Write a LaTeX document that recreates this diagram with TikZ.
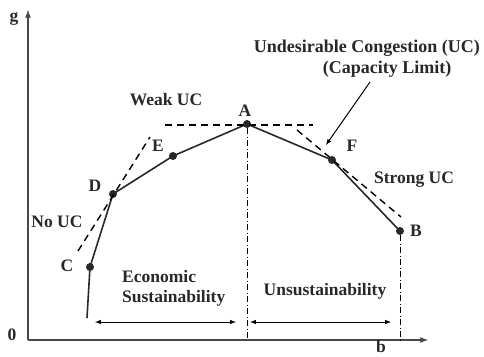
\documentclass[tikz,border=0pt]{standalone}
\usepackage{fontspec}
\setmainfont{Liberation Serif}
\usetikzlibrary{positioning,
        shapes,
        arrows.meta}
\usepackage{xcolor}
\definecolor{ink}{RGB}{40,40,40}

\begin{document}
\begin{tikzpicture}[x=1pt,y=-1pt,font=\fontsize{17.5}{20}\selectfont\bfseries,text=ink]
            \tikzset{pt/.style={circle,fill=ink,inner sep=0pt,minimum size=8pt},
                     lbl/.style={inner sep=1pt},
                     tang/.style={line width=1.4pt, dash pattern=on 7pt off 5pt},
                     drop/.style={line width=0.8pt, dash pattern=on 6pt off 2.5pt on 1pt off 2.5pt}}
            \useasboundingbox (0,0) rectangle (484,356);

            % axes
            \coordinate (o) at (28,340);
            \coordinate (ytop) at (28,10);
            \coordinate (xend) at (428,340);
            \draw [-latex, line width=1.6pt, ink!85] (o) -- (ytop);
            \draw [-latex, line width=1.6pt, ink!85] (o) -- (xend);
            \node [lbl] (g) at (14,19) {g};
            \node [lbl] (zero) at (12,335) {0};
            \node [lbl] (b) at (381,347) {b};

            % points
            \coordinate (start) at (87,318);
            \node [pt] (C) at (90,267) {};
            \node [pt] (D) at (113,194) {};
            \node [pt] (E) at (173,156) {};
            \node [pt] (A) at (247,124) {};
            \node [pt] (F) at (332,160) {};
            \node [pt] (B) at (400,231) {};

            \node [lbl] (Clbl) at (67,266) {C};
            \node [lbl] (Dlbl) at (95,186) {D};
            \node [lbl] (Elbl) at (158,146) {E};
            \node [lbl] (Albl) at (245,111) {A};
            \node [lbl] (Flbl) at (352,146) {F};
            \node [lbl] (Blbl) at (416,231) {B};

            % curve
            \draw [line width=1.6pt, ink] (start) -- (C.center) -- (D.center) -- (E.center) -- (A.center) -- (F.center) -- (B.center);

            % tangents
            \coordinate (nu1) at (78,251);
            \coordinate (nu2) at (150,137);
            \coordinate (h1) at (165,125);
            \coordinate (h2) at (313,125);
            \coordinate (s1) at (297,130);
            \coordinate (s2) at (401,217);
            \draw [tang] (nu1) -- (nu2);
            \draw [tang] (h1) -- (h2);
            \draw [tang] (s1) -- (s2);

            % vertical lines
            \coordinate (Abase) at (247,340);
            \coordinate (Bbase) at (400,340);
            \draw [drop] (A) -- (Abase);
            \draw [drop] (B) -- (Bbase);

            % region labels
            \node [lbl] (weak) at (166,100) {Weak UC};
            \node [lbl] (noUC) at (57,222) {No UC};
            \node [lbl] (strong) at (414,180) {Strong UC};
            \node [lbl, anchor=east, font=\fontsize{18}{20}\selectfont\bfseries] (uc1) at (481,48) {Undesirable Congestion (UC)};
            \node [lbl, font=\fontsize{18}{20}\selectfont\bfseries] (uc2) at (387,69) {(Capacity Limit)};
            \coordinate (ucstart) at (370,82);
            \coordinate (ucend) at (326,145);
            \draw [-latex, line width=1pt] (ucstart) -- (ucend);

            \node [lbl, align=left, anchor=west] (eco) at (121,288) {Economic\\Sustainability};
            \node [lbl] (unsus) at (325,291) {Unsustainability};
            \coordinate (l1) at (95,322);
            \coordinate (l2) at (236,322);
            \coordinate (r1) at (250,322);
            \coordinate (r2) at (391,322);
            \draw [latex-latex, line width=1pt] (l1) -- (l2);
            \draw [latex-latex, line width=1pt] (r1) -- (r2);
        \end{tikzpicture}
\end{document}
